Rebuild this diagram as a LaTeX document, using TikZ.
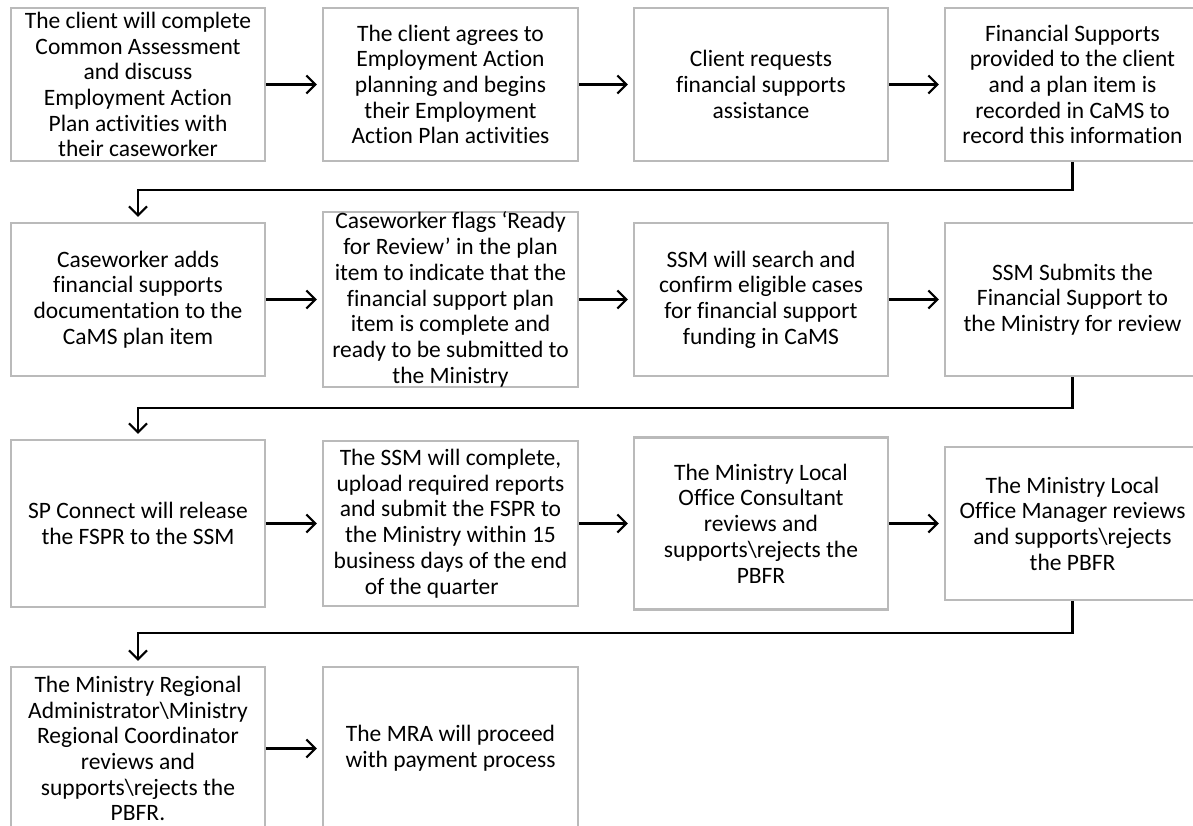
\documentclass[tikz,border=0pt]{standalone}
\usepackage{fontspec}
\setmainfont{Carlito}[Ligatures={NoCommon}]
\usetikzlibrary{arrows.meta}
\begin{document}
\begin{tikzpicture}[x=1pt,y=-1pt,
  box/.style={draw=black!27, line width=2.2pt, fill=white, align=center,
    font=\fontsize{23.5}{25.7}\selectfont, inner sep=0pt, anchor=center},
  flow/.style={draw=black, line width=2.2pt, -{Straight Barb[length=9pt,width=18pt,line width=2.2pt]}, shorten >=5pt},
  link/.style={draw=black, line width=2.2pt, -{Straight Barb[length=9pt,width=18pt,line width=2.2pt]}, shorten >=5pt}]
\clip (0,0) rectangle (1193,825);
\fill[white] (0,0) rectangle (1193,825);
% Row 1
\node[box, minimum width=254pt, minimum height=153pt] (b1) at (138,84.5) {The client will complete\\Common Assessment\\and discuss\\Employment Action\\Plan activities with\\their caseworker};
\node[box, minimum width=255pt, minimum height=153pt] (b2) at (450.5,84.5) {The client agrees to\\Employment Action\\planning and begins\\their Employment\\Action Plan activities};
\node[box, minimum width=254pt, minimum height=153pt] (b3) at (761,84.5) {Client requests\\financial supports\\assistance};
\node[box, minimum width=255pt, minimum height=153pt] (b4) at (1072.5,84.5) {Financial Supports\\provided to the client\\and a plan item is\\recorded in CaMS to\\record this information};
% Row 2
\node[box, minimum width=254pt, minimum height=153pt] (b5) at (138,299.5) {Caseworker adds\\financial supports\\documentation to the\\CaMS plan item};
\node[box, minimum width=255pt, minimum height=165pt] (b6) at (450.5,299.5) {Caseworker flags ‘Ready\\for Review’ in the plan\\item to indicate that the\\financial support plan\\item is complete and\\ready to be submitted to\\the Ministry};
\node[box, minimum width=254pt, minimum height=153pt] (b7) at (761,299.5) {SSM will search and\\confirm eligible cases\\for financial support\\funding in CaMS};
\node[box, minimum width=255pt, minimum height=153pt] (b8) at (1072.5,299.5) {SSM Submits the\\Financial Support to\\the Ministry for review};
% Row 3
\node[box, minimum width=254pt, minimum height=167pt] (b9) at (138,523.5) {SP Connect will release\\the FSPR to the SSM};
\node[box, minimum width=255pt, minimum height=165pt] (b10) at (450.5,523.5) {The SSM will complete,\\upload required reports\\and submit the FSPR to\\the Ministry within 15\\business days of the end\\of the quarter\hspace*{1.6em}};
\node[box, minimum width=254pt, minimum height=172pt] (b11) at (761,523.5) {The Ministry Local\\Office Consultant\\reviews and\\supports\textbackslash rejects the\\PBFR};
\node[box, minimum width=255pt, minimum height=153pt] (b12) at (1072.5,523.5) {The Ministry Local\\Office Manager reviews\\and supports\textbackslash rejects\\the PBFR};
% Row 4
\node[box, minimum width=254pt, minimum height=163pt] (b13) at (138,748.5) {The Ministry Regional\\Administrator\textbackslash Ministry\\Regional Coordinator\\reviews and\\supports\textbackslash rejects the\\PBFR.};
\node[box, minimum width=255pt, minimum height=163pt] (b14) at (450.5,748.5) {The MRA will proceed\\with payment process};
% horizontal arrows
\draw[flow] (b1.east) -- (b2.west);
\draw[flow] (b2.east) -- (b3.west);
\draw[flow] (b3.east) -- (b4.west);
\draw[flow] (b5.east) -- (b6.west);
\draw[flow] (b6.east) -- (b7.west);
\draw[flow] (b7.east) -- (b8.west);
\draw[flow] (b9.east) -- (b10.west);
\draw[flow] (b10.east) -- (b11.west);
\draw[flow] (b11.east) -- (b12.west);
\draw[flow] (b13.east) -- (b14.west);
% row links
\coordinate (r1) at (0,190);
\coordinate (r2) at (0,408);
\coordinate (r3) at (0,633);
\draw[link] (b4.south) -- (b4.south |- r1) -- (b5.north |- r1) -- (b5.north);
\draw[link] (b8.south) -- (b8.south |- r2) -- (b9.north |- r2) -- (b9.north);
\draw[link] (b12.south) -- (b12.south |- r3) -- (b13.north |- r3) -- (b13.north);
\end{tikzpicture}
\end{document}
